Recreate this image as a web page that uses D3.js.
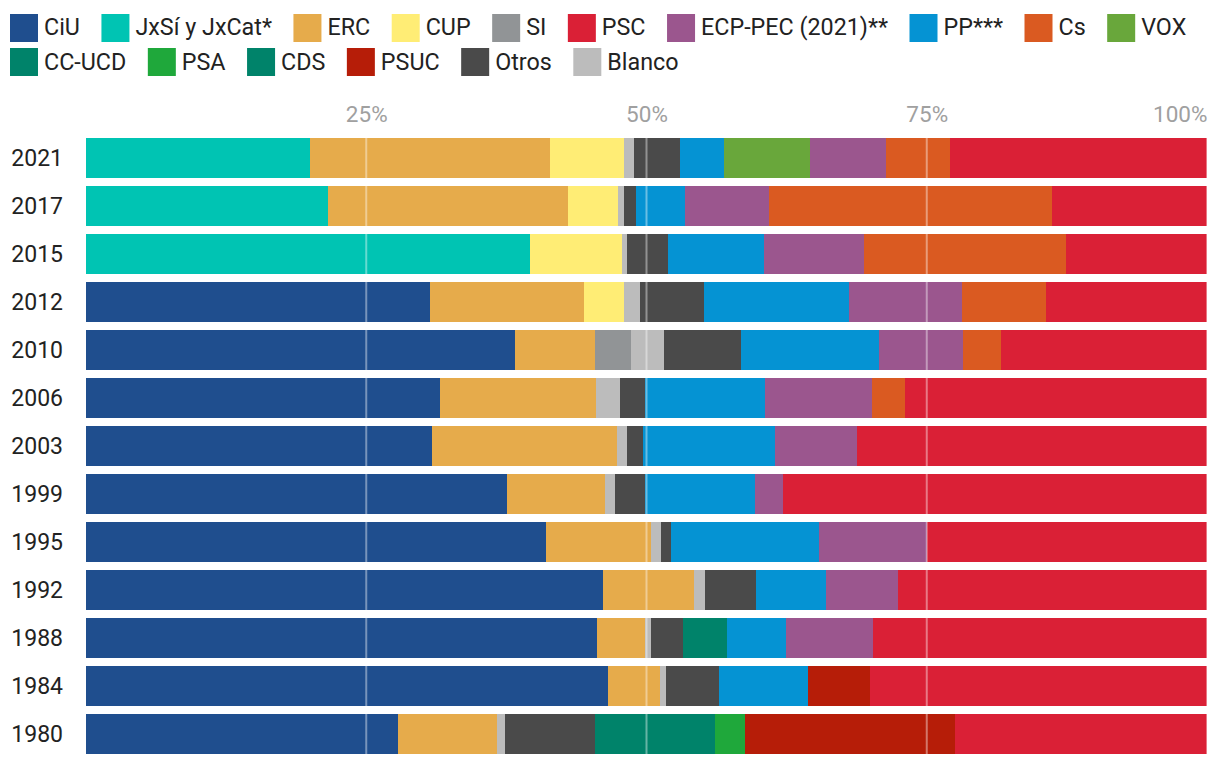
<!DOCTYPE html>
<html>
<head>
<meta charset="utf-8">
<script src="https://cdn.jsdelivr.net/npm/d3@7"></script>
<style>
  html, body { margin: 0; padding: 0; background: #fff; }
  svg { display: block; font-family: Roboto, "Noto Sans", sans-serif; }
</style>
</head>
<body>
<svg id="chart" width="1220" height="766"></svg>
<script>
// ---------- DATA ----------
const years = ["2021","2017","2015","2012","2010","2006","2003","1999","1995","1992","1988","1984","1980"];

const seriesKeys = ["CiU","JxSí y JxCat*","ERC","CUP","SI","Blanco","Otros","CC-UCD","CDS","PSA","PP***","VOX","ECP-PEC (2021)**","PSUC","Cs","PSC"];

const CiU      = [0,    0,    0,    30.7, 38.3, 31.6, 30.9, 37.6, 41.0, 46.1, 45.6, 46.6, 27.8];
const JxSi     = [20.0, 21.6, 39.6, 0,    0,    0,    0,    0,    0,    0,    0,    0,    0];
const ERC      = [21.4, 21.4, 0,    13.7, 7.1,  13.9, 16.5, 8.7,  9.4,  8.1,  4.3,  4.6,  8.9];
const CUP      = [6.6,  4.5,  8.2,  3.6,  0,    0,    0,    0,    0,    0,    0,    0,    0];
const SI       = [0,    0,    0,    0,    3.2,  0,    0,    0,    0,    0,    0,    0,    0];
const Blanco   = [0.9,  0.5,  0.5,  1.4,  3.0,  2.1,  0.9,  0.9,  0.9,  1.0,  0.5,  0.5,  0.7];
const Otros    = [4.1,  1.1,  3.6,  5.7,  6.8,  2.3,  1.4,  2.7,  0.9,  4.6,  2.9,  4.8,  8.0];
const CCUCD    = [0,    0,    0,    0,    0,    0,    0,    0,    0,    0,    0,    0,    10.7];
const CDS      = [0,    0,    0,    0,    0,    0,    0,    0,    0,    0,    3.9,  0,    0];
const PSA      = [0,    0,    0,    0,    0,    0,    0,    0,    0,    0,    0,    0,    2.7];
const PP       = [3.9,  4.3,  8.6,  13.0, 12.3, 10.7, 11.8, 9.8,  13.2, 6.2,  5.2,  7.9,  0];
const VOX      = [7.7,  0,    0,    0,    0,    0,    0,    0,    0,    0,    0,    0,    0];
const ECP      = [6.8,  7.5,  8.9,  10.0, 7.5,  9.5,  7.3,  2.5,  9.6,  6.4,  7.8,  0,    0];
const PSUC     = [0,    0,    0,    0,    0,    0,    0,    0,    0,    0,    0,    5.5,  18.7];
const Cs       = [5.7,  25.3, 18.0, 7.5,  3.4,  3.0,  0,    0,    0,    0,    0,    0,    0];
const PSC      = [22.9, 13.8, 12.6, 14.4, 18.4, 26.9, 31.2, 37.8, 25.0, 27.6, 29.8, 30.1, 22.5];

const seriesValues = [CiU, JxSi, ERC, CUP, SI, Blanco, Otros, CCUCD, CDS, PSA, PP, VOX, ECP, PSUC, Cs, PSC];

const colors = {
  "CiU": "#1f4e8e",
  "JxSí y JxCat*": "#00c4b3",
  "ERC": "#e6ab4b",
  "CUP": "#ffed75",
  "SI": "#919496",
  "PSC": "#da2036",
  "ECP-PEC (2021)**": "#9b568e",
  "PP***": "#0593d3",
  "Cs": "#da5a21",
  "VOX": "#69a73b",
  "CC-UCD": "#00836a",
  "PSA": "#1fa83b",
  "CDS": "#00836a",
  "PSUC": "#b61d08",
  "Otros": "#4a4a4a",
  "Blanco": "#bcbcbc"
};

const legendRow1 = ["CiU","JxSí y JxCat*","ERC","CUP","SI","PSC","ECP-PEC (2021)**","PP***","Cs","VOX"];
const legendRow2 = ["CC-UCD","PSA","CDS","PSUC","Otros","Blanco"];

const tickValues = [25, 50, 75, 100];

// ---------- BUILD ----------
const rows = years.map((y, i) => {
  const r = { year: y };
  seriesKeys.forEach((k, j) => { r[k] = seriesValues[j][i]; });
  return r;
});

const svg = d3.select("#chart");

const x = d3.scaleLinear().domain([0, 100]).range([86, 1207]);
const yScale = d3.scaleBand().domain(years).range([134, 758]).paddingInner(1/6).paddingOuter(1/12);

const stacked = d3.stack().keys(seriesKeys)(rows);

// bars
const layers = svg.append("g").selectAll("g").data(stacked).join("g")
  .attr("fill", d => colors[d.key]);
layers.selectAll("rect").data(d => d.filter(p => p[1] - p[0] > 0)).join("rect")
  .attr("x", d => x(d[0]))
  .attr("width", d => x(d[1]) - x(d[0]))
  .attr("y", d => yScale(d.data.year))
  .attr("height", yScale.bandwidth())
  .attr("shape-rendering", "crispEdges");

// grid lines over bars
svg.append("g").selectAll("line").data(tickValues).join("line")
  .attr("x1", d => x(d)).attr("x2", d => x(d))
  .attr("y1", yScale(years[0])).attr("y2", yScale(years[years.length - 1]) + yScale.bandwidth())
  .attr("stroke", "#fff").attr("stroke-opacity", 0.4).attr("stroke-width", 2);

// top axis
const xAxis = d3.axisTop(x).tickValues(tickValues).tickFormat(d => d + "%").tickSize(0).tickPadding(0);
const gx = svg.append("g").attr("transform", "translate(0,122)").call(xAxis);
gx.select(".domain").remove();
gx.selectAll("text")
  .attr("y", 0).attr("dy", 0)
  .attr("font-size", 22.5).attr("font-family", "Roboto, sans-serif")
  .attr("fill", "#a0a0a0")
  .attr("text-anchor", d => d === 100 ? "end" : "middle");

// left axis
const yAxis = d3.axisLeft(yScale).tickSize(0).tickPadding(23);
const gy = svg.append("g").attr("transform", "translate(86,0)").call(yAxis);
gy.select(".domain").remove();
gy.selectAll("text")
  .attr("font-size", 23).attr("font-family", "Roboto, sans-serif")
  .attr("fill", "#222").attr("dy", "0.35em");

// legend
function drawLegendRow(items, top, baseline) {
  let cx = 10;
  items.forEach(name => {
    const g = svg.append("g");
    g.append("rect").attr("x", cx).attr("y", top).attr("width", 28).attr("height", 28)
      .attr("fill", colors[name]);
    const t = g.append("text").attr("x", cx + 34).attr("y", baseline)
      .attr("font-size", 23.3).attr("font-family", "Roboto, sans-serif")
      .attr("fill", "#222").text(name);
    const w = t.node().getComputedTextLength();
    cx = cx + 34 + w + 21.5;
  });
}
drawLegendRow(legendRow1, 14, 35);
drawLegendRow(legendRow2, 48, 70);
</script>
</body>
</html>
